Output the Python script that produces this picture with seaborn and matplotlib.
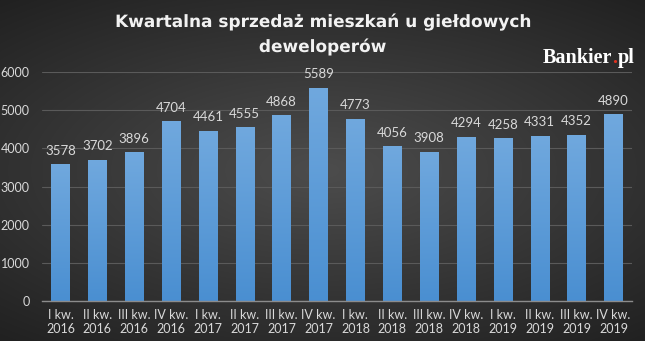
import numpy as np
import pandas as pd
import matplotlib
matplotlib.use("Agg")
import matplotlib.pyplot as plt
import matplotlib.patheffects as pe
import seaborn as sns

quarters = ["I kw.\n2016", "II kw.\n2016", "III kw.\n2016", "IV kw.\n2016",
            "I kw.\n2017", "II kw.\n2017", "III kw.\n2017", "IV kw.\n2017",
            "I kw.\n2018", "II kw.\n2018", "III kw.\n2018", "IV kw.\n2018",
            "I kw.\n2019", "II kw.\n2019", "III kw.\n2019", "IV kw.\n2019"]
sales = [3578, 3702, 3896, 4704, 4461, 4555, 4868, 5589,
         4773, 4056, 3908, 4294, 4258, 4331, 4352, 4890]
y_ticks = [0, 1000, 2000, 3000, 4000, 5000, 6000]

df = pd.DataFrame({"kwartal": quarters, "sprzedaz": sales})

sns.set_theme(style="dark")
plt.rcParams["font.family"] = ["Lato", "DejaVu Sans"]

fig = plt.figure(figsize=(6.45, 3.41), dpi=100)
W, H = 645, 341

# radial dark-grey backdrop
bg = fig.add_axes([0, 0, 1, 1], zorder=-10)
yy, xx = np.mgrid[-1:1:341j, -1:1:645j]
r = np.sqrt((xx * 0.85) ** 2 + (yy * 1.0) ** 2)
shade = np.clip(0.30 - 0.13 * r, 0.12, 0.32)
bg.imshow(np.dstack([shade] * 3), aspect="auto", extent=[0, 1, 0, 1])
bg.axis("off")

ax = fig.add_axes([42 / W, 1 - 301 / H, 590 / W, 229 / H])
ax.patch.set_alpha(0)

sns.barplot(data=df, x="kwartal", y="sprzedaz", color="#5b9bd5",
            width=0.5, ax=ax, saturation=1, linewidth=0, edgecolor="none")

# vertical gradient inside each bar
grad = np.linspace(0, 1, 256).reshape(-1, 1)
top = np.array([0.44, 0.66, 0.87])
bot = np.array([0.29, 0.56, 0.82])
cols = bot + (top - bot) * grad[..., None]
for p in ax.patches:
    x0, w, h = p.get_x(), p.get_width(), p.get_height()
    im = ax.imshow(cols, extent=[x0, x0 + w, 0, h], origin="lower",
                   aspect="auto", zorder=p.get_zorder() + 0.1)
    im.set_clip_path(p)
    ax.text(x0 + w / 2, h + 200, f"{int(h)}", ha="center", va="bottom",
            color="#d9d9d9", fontsize=9.5)

ax.set_xlim(-0.5, len(quarters) - 0.5)
ax.set_ylim(0, 6000)
ax.set_yticks(y_ticks)
ax.set_yticklabels([str(t) for t in y_ticks])
ax.set_xlabel("")
ax.set_ylabel("")
ax.tick_params(axis="both", colors="#d9d9d9", labelsize=9, length=0)
ax.tick_params(axis="y", pad=9)
ax.tick_params(axis="x", pad=6)
for lab in ax.get_xticklabels() + ax.get_yticklabels():
    lab.set_color("#d9d9d9")
ax.grid(axis="y", color="#5a5a5a", linewidth=0.8)
ax.grid(axis="x", visible=False)
ax.set_axisbelow(True)
for s in ["top", "right", "left"]:
    ax.spines[s].set_visible(False)
ax.spines["bottom"].set_color("#8c8c8c")
ax.spines["bottom"].set_linewidth(1.0)

title_kw = dict(ha="center", va="baseline", color="#f2f2f2", fontsize=12.2,
                fontweight="bold", family=["DejaVu Sans"])
t_a = fig.text(0.5, 1 - 27 / H, "Kwartalna sprzedaż mieszkań u giełdowych", **title_kw)
t_b = fig.text(0.5, 1 - 52 / H, "deweloperów", **title_kw)
for t in (t_a, t_b):
    t.set_path_effects([pe.SimpleLineShadow(offset=(1, -1), shadow_color="black", alpha=0.4),
                        pe.Normal()])

# logo: white word, red dot between "Bankier" and "pl"
lx, ly = 543 / W, 1 - 63 / H
logo_kw = dict(va="baseline", fontsize=14.5, fontweight="bold",
               family=["Liberation Serif"])
renderer = fig.canvas.get_renderer()
t_word = fig.text(lx, ly, "Bankier", ha="left", color="white", **logo_kw)
x1 = t_word.get_window_extent(renderer).x1 / fig.bbox.width
t_dot = fig.text(x1, ly, ".", ha="left", color="#e0311f", **logo_kw)
x2 = t_dot.get_window_extent(renderer).x1 / fig.bbox.width
fig.text(x2, ly, "pl", ha="left", color="white", **logo_kw)

fig.savefig("out.png", dpi=100)
